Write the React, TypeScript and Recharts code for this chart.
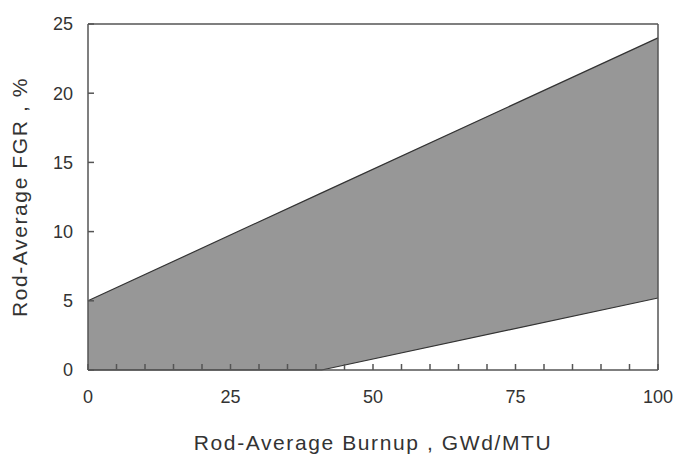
import {
  ComposedChart,
  Area,
  XAxis,
  YAxis,
  ReferenceLine,
  Label,
} from 'recharts'

// Burnup (GWd/MTU) and the FGR envelope
const burnup = [0, 41, 100]
const fgrLow = [0, 0, 5.2]
const fgrHigh = [5, 12.8, 24]

const xTicks = [0, 5, 10, 15, 20, 25, 30, 35, 40, 45, 50, 55, 60, 65, 70, 75, 80, 85, 90, 95, 100]
const yTicks = [0, 5, 10, 15, 20, 25]

const FONT = '"Liberation Sans", Arial, sans-serif'
const AXIS = '#555'
const TEXT = '#333'

export default function App() {
  const data = burnup.map((b, i) => ({ burnup: b, band: [fgrLow[i], fgrHigh[i]] }))

  return (
    <div style={{ position: 'absolute', left: 0, top: 0, fontFamily: FONT }}>
      <ComposedChart
        width={678}
        height={454}
        data={data}
        margin={{ top: 24, right: 20, left: 0, bottom: 0 }}
      >
        <XAxis
          dataKey="burnup"
          type="number"
          domain={[0, 100]}
          ticks={xTicks}
          interval={0}
          tickFormatter={(v: number) => (v % 25 === 0 ? String(v) : '')}
          height={84}
          tickSize={-6}
          tickMargin={26}
          stroke={AXIS}
          strokeWidth={1.5}
          tick={{ fill: TEXT, fontSize: 18, fontFamily: FONT }}
        >
          <Label
            value="Rod-Average Burnup , GWd/MTU"
            position="insideBottom"
            offset={4}
            style={{ fill: TEXT, fontSize: 21, fontFamily: FONT, letterSpacing: 1.6 }}
          />
        </XAxis>
        <YAxis
          type="number"
          domain={[0, 25]}
          ticks={yTicks}
          interval={0}
          width={88}
          tickSize={-6}
          tickMargin={21}
          stroke={AXIS}
          strokeWidth={1.5}
          tick={{ fill: TEXT, fontSize: 18, fontFamily: FONT }}
        >
          <Label
            value="Rod-Average FGR , %"
            angle={-90}
            position="insideLeft"
            offset={20}
            style={{ fill: TEXT, fontSize: 21, fontFamily: FONT, textAnchor: 'middle', letterSpacing: 1.6 }}
          />
        </YAxis>
        <ReferenceLine y={25} stroke={AXIS} strokeWidth={1.5} />
        <ReferenceLine x={100} stroke={AXIS} strokeWidth={1.5} />
        <Area
          dataKey="band"
          type="linear"
          fill="#979797"
          fillOpacity={1}
          stroke="#333"
          strokeWidth={1.2}
          isAnimationActive={false}
          dot={false}
          activeDot={false}
        />
      </ComposedChart>
    </div>
  )
}
